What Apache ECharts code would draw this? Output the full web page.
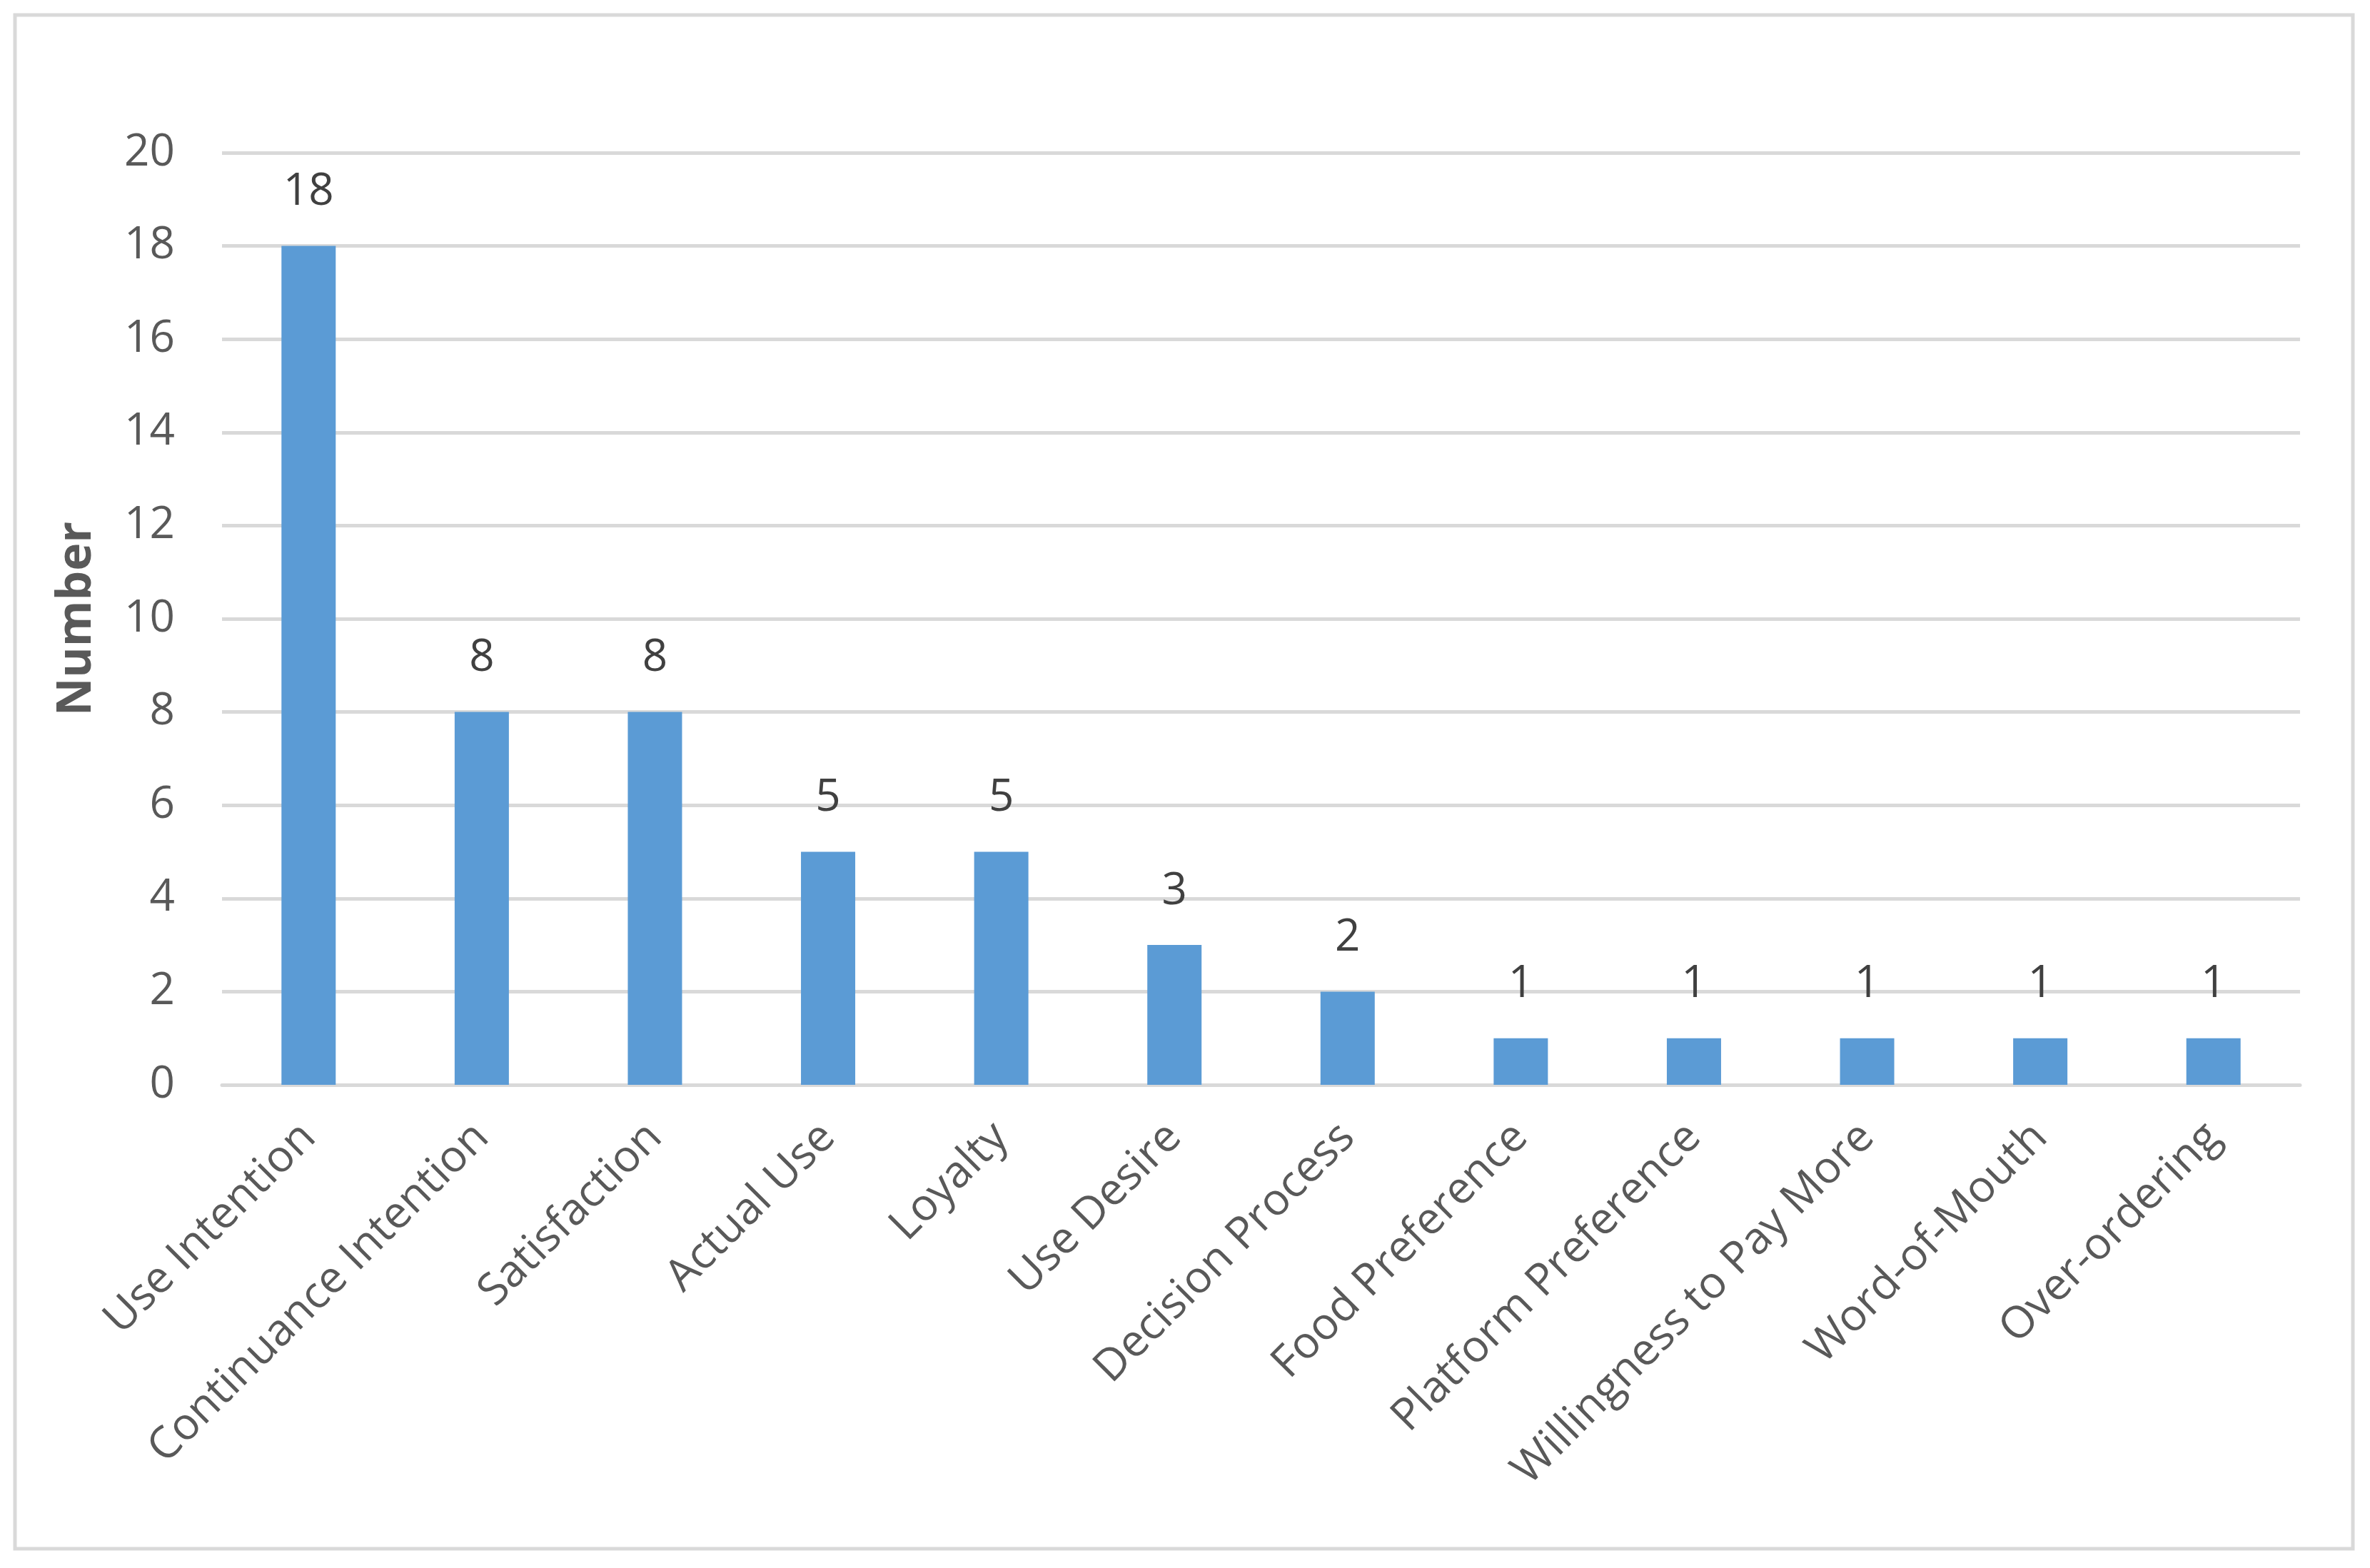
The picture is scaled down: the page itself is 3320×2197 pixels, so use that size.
<!DOCTYPE html>
<html><head><meta charset="utf-8">
<script src="https://cdn.jsdelivr.net/npm/echarts@6/dist/echarts.min.js"></script>
<style>html,body{margin:0;padding:0;background:#fff}#c{width:3320px;height:2197px}</style>
</head><body><div id="c"></div>
<script>
const categories = ["Use Intention","Continuance Intention","Satisfaction","Actual Use","Loyalty","Use Desire","Decision Process","Food Preference","Platform Preference","Willingness to Pay More","Word-of-Mouth","Over-ordering"];
const values = [18,8,8,5,5,3,2,1,1,1,1,1];
const yTicks = [0,2,4,6,8,10,12,14,16,18,20];
const yName = "Number";

const chart = echarts.init(document.getElementById('c'));
const font = "'Open Sans', 'Noto Sans', sans-serif";
chart.setOption({
  animation:false,
  backgroundColor:'#fff',
  graphic:[{type:'rect',shape:{x:21,y:21,width:3275,height:2149},style:{fill:'none',stroke:'#d9d9d9',lineWidth:5}}],
  grid:{left:311,right:98,top:214,bottom:677},
  xAxis:{type:'category',data:categories,
    axisLine:{show:true,lineStyle:{color:'#d9d9d9',width:5}},
    axisTick:{show:false},
    axisLabel:{rotate:45,interval:0,margin:64,color:'#595959',fontSize:62,fontFamily:font}},
  yAxis:{type:'value',min:yTicks[0],max:yTicks[yTicks.length-1],interval:2,
    name:yName,nameLocation:'middle',nameGap:170,
    nameTextStyle:{fontSize:66,fontWeight:'bold',color:'#595959',fontFamily:font},
    axisLine:{show:false},axisTick:{show:false},
    splitLine:{lineStyle:{color:'#d9d9d9',width:5}},
    axisLabel:{margin:66,color:'#595959',fontSize:62,fontFamily:font}},
  series:[{type:'bar',data:values,barWidth:76,itemStyle:{color:'#5b9bd5'},
    label:{show:true,position:'top',distance:44,color:'#404040',fontSize:62,fontFamily:font}}]
});
</script></body></html>
